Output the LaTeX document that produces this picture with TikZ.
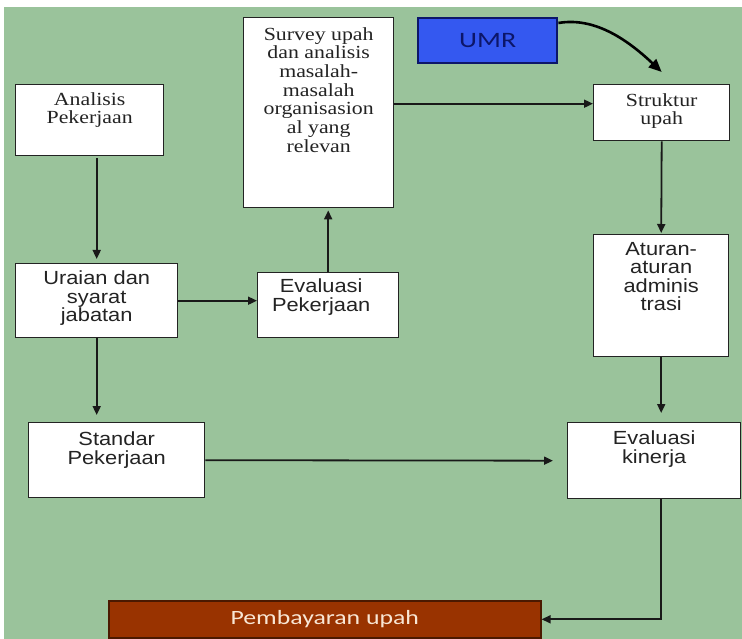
\documentclass[tikz,border=0pt]{standalone}
\usepackage{fontspec}
\setmainfont{Liberation Serif}
\newfontfamily\serifbox[FakeStretch=1.18]{Liberation Serif}
\newfontfamily\sansbox[FakeStretch=1.15]{Liberation Sans}
\newfontfamily\calbox[FakeStretch=1.27]{Carlito}
\usetikzlibrary{arrows.meta}

\definecolor{bggreen}{RGB}{154,195,155}
\definecolor{umrblue}{RGB}{52,88,240}
\definecolor{umrnavy}{RGB}{12,22,105}
\definecolor{payred}{RGB}{153,51,0}
\definecolor{payedge}{RGB}{75,25,0}
\definecolor{paytext}{RGB}{248,230,212}
\definecolor{inkgray}{RGB}{35,35,35}

\begin{document}
\begin{tikzpicture}[x=1pt,y=-1pt,
  box/.style={draw=inkgray, line width=1.4pt, fill=white, inner sep=0pt, anchor=north west},
  seriftext/.style={font=\serifbox\fontsize{18.5}{18.7}\selectfont, align=center, anchor=north, inner sep=0pt, text=inkgray},
  sanstext/.style={font=\sansbox\fontsize{19}{18.5}\selectfont, align=center, anchor=north, inner sep=0pt, text=inkgray},
  flow/.style={draw=black!90, line width=1.8pt, -{Triangle[length=9pt,width=8pt]}},
]
% canvas and background
\useasboundingbox (0,0) rectangle (742,639);
\fill[white] (0,0) rectangle (742,639);
\fill[bggreen] (4,7) rectangle (742,639);

% boxes
\node[box, minimum width=148pt, minimum height=71pt]  (analisis) at (15,84)  {};
\node[box, minimum width=150pt, minimum height=190pt] (survey)   at (243,17) {};
\node[box, minimum width=136pt, minimum height=56pt]  (struktur) at (593,84) {};
\node[box, minimum width=162pt, minimum height=74pt]  (uraian)   at (15,263) {};
\node[box, minimum width=141pt, minimum height=65pt]  (evalp)    at (257,272) {};
\node[box, minimum width=135pt, minimum height=122pt] (aturan)   at (593,234) {};
\node[box, minimum width=176pt, minimum height=75pt]  (standar)  at (28,422) {};
\node[box, minimum width=173pt, minimum height=76pt]  (evalk)    at (567,422) {};

\node[draw=umrnavy, line width=2.4pt, fill=umrblue, minimum width=139pt, minimum height=45pt,
      anchor=north west, inner sep=0pt, text=umrnavy,
      font=\calbox\fontsize{22}{24}\selectfont] (umr) at (417,17) {UMR};
\node[draw=payedge, line width=1.6pt, fill=payred, minimum width=432pt, minimum height=37pt,
      anchor=north west, inner sep=0pt, text=paytext,
      font=\calbox\fontsize{20.3}{22}\selectfont] (pemb) at (108,600) {Pembayaran upah};

% box texts
\node[seriftext] (analisisT) at ([yshift=-8pt]analisis.north) {Analisis\\Pekerjaan};
\node[seriftext] (surveyT)   at ([yshift=-10pt]survey.north) {Survey upah\\dan analisis\\masalah-\\masalah\\organisasion\\al yang\\relevan};
\node[seriftext] (strukturT) at ([yshift=-9pt]struktur.north) {Struktur\\upah};
\node[sanstext]  (uraianT)   at ([yshift=-8pt]uraian.north) {Uraian dan\\syarat\\jabatan};
\node[sanstext]  (evalpT)    at ([xshift=-7pt,yshift=-7pt]evalp.north) {Evaluasi\\Pekerjaan};
\node[sanstext]  (aturanT)   at ([yshift=-8pt]aturan.north) {Aturan-\\aturan\\adminis\\trasi};
\node[sanstext]  (standarT)  at ([yshift=-10pt]standar.north) {Standar\\Pekerjaan};
\node[sanstext]  (evalkT)    at ([yshift=-9pt]evalk.north) {Evaluasi\\kinerja};

% connectors
\draw[flow, shorten >=4pt] ([yshift=-2pt]uraian.north |- analisis.south) -- (uraian.north);
\draw[flow] (uraian.east) -- (uraian.east -| evalp.west);
\draw[flow, shorten >=2pt] (evalp.north) -- (evalp.north |- survey.south);
\draw[flow] ([yshift=9pt]survey.east) -- ([yshift=9pt]struktur.west);
\draw[flow, shorten >=1pt] (struktur.south) -- (aturan.north);
\draw[flow, shorten >=9pt] (aturan.south) -- (aturan.south |- evalk.north);
\draw[flow, shorten >=7pt] (uraian.south) -- (uraian.south |- standar.north);
\draw[flow, shorten >=14pt] (standar.east) -- (evalk.west);
\draw[flow] (aturan.south |- evalk.south) |- (pemb.east);
\draw[line width=2.6pt, -{Triangle[length=13pt,width=11pt]}]
  ([yshift=-6pt]umr.north east) .. controls +(35,-6) and +(-36,-34) .. ([yshift=12pt]struktur.north);
\end{tikzpicture}
\end{document}
